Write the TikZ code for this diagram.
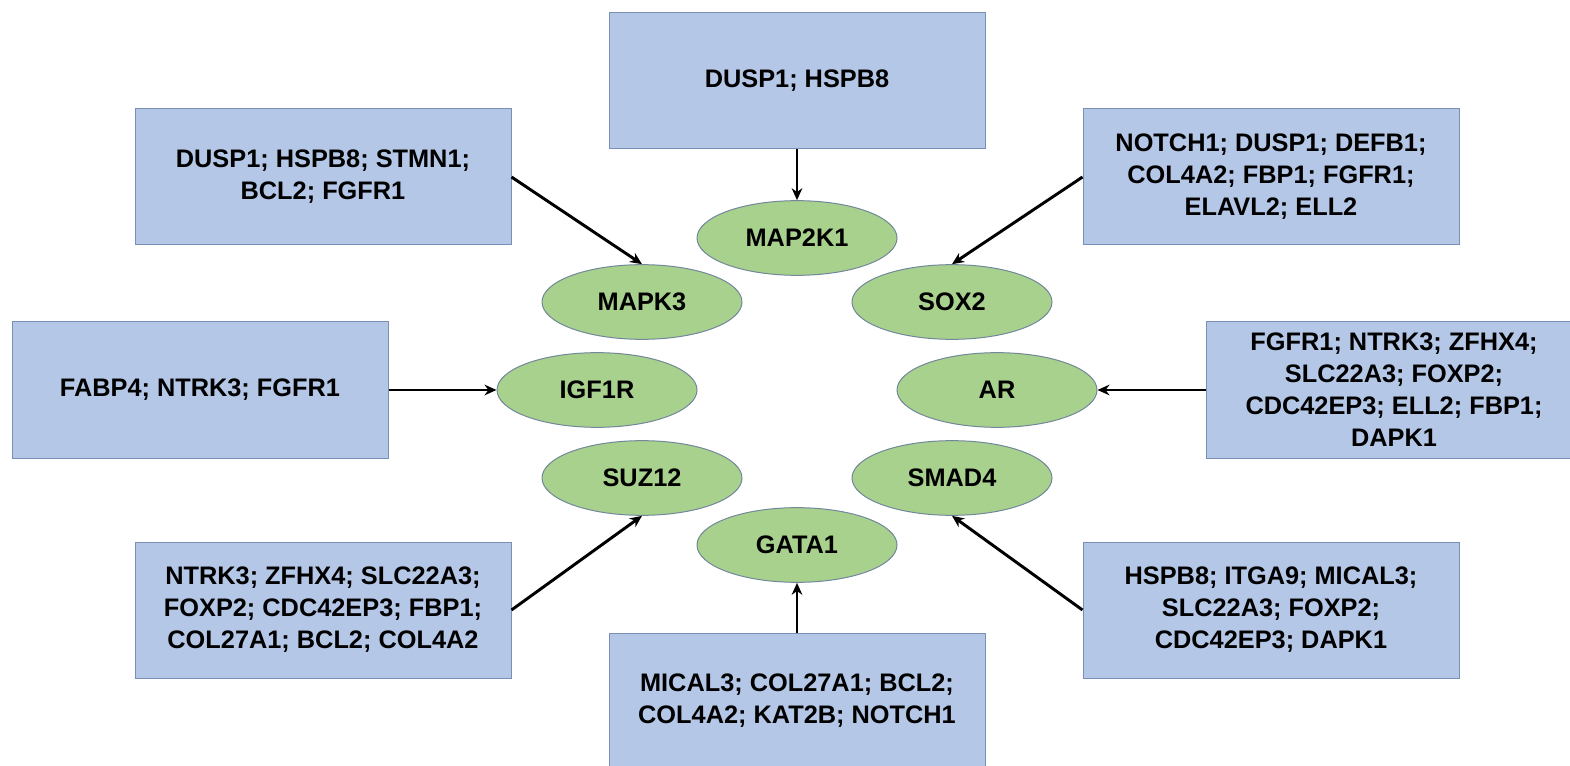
\documentclass[tikz,border=0pt]{standalone}
\usepackage{fontspec}
\setmainfont{Liberation Sans}
\usetikzlibrary{arrows.meta,shapes.geometric}

\definecolor{boxfill}{HTML}{B4C7E7}
\definecolor{boxline}{HTML}{7A8FB5}
\definecolor{genefill}{HTML}{A9D18E}
\definecolor{geneline}{HTML}{71879A}

\tikzset{every picture/.style={line width=0.75pt}}
\tikzset{
  genebox/.style={draw=boxline, fill=boxfill, minimum width=282pt, minimum height=102pt, align=center, inner sep=0pt,
    font=\fontsize{19}{24}\selectfont\bfseries},
  hub/.style={ellipse, draw=geneline, fill=genefill, minimum width=150pt, minimum height=56pt, inner sep=0pt,
    font=\fontsize{19}{24}\selectfont\bfseries},
  link/.style={line width=2.2pt, -{Stealth[length=9pt,width=8pt]}}
}

\begin{document}
\begin{tikzpicture}[x=0.75pt,y=0.75pt,yscale=-1,xscale=1]
\useasboundingbox (0,0) rectangle (1570,766);

\node [hub] (map2k1) at (797,238) {MAP2K1};
\node [hub] (mapk3) at (642,302) {MAPK3};
\node [hub] (sox2) at (952,302) {SOX2};
\node [hub] (igf1r) at (597,390) {IGF1R};
\node [hub] (ar) at (997,390) {AR};
\node [hub] (suz12) at (642,478) {SUZ12};
\node [hub] (smad4) at (952,478) {SMAD4};
\node [hub] (gata1) at (797,545) {GATA1};

\node [genebox] (top) at (797,81) {DUSP1; HSPB8};
\node [genebox] (topleft) at (323,177) {DUSP1; HSPB8; STMN1;\\BCL2; FGFR1};
\node [genebox] (topright) at (1271,177) {NOTCH1; DUSP1; DEFB1;\\COL4A2; FBP1; FGFR1;\\ELAVL2; ELL2};
\node [genebox] (left) at (200,390) {FABP4; NTRK3; FGFR1};
\node [genebox] (right) at (1394,390) {FGFR1; NTRK3; ZFHX4;\\SLC22A3; FOXP2;\\CDC42EP3; ELL2; FBP1;\\DAPK1};
\node [genebox] (botleft) at (323,610) {NTRK3; ZFHX4; SLC22A3;\\FOXP2; CDC42EP3; FBP1;\\COL27A1; BCL2; COL4A2};
\node [genebox] (botright) at (1271,610) {HSPB8; ITGA9; MICAL3;\\SLC22A3; FOXP2;\\CDC42EP3; DAPK1};
\node [genebox] (bottom) at (797,701) {MICAL3; COL27A1; BCL2;\\COL4A2; KAT2B; NOTCH1};

\draw [link] (top) -- (map2k1);
\draw [link] (topleft.east) -- (mapk3.north);
\draw [link] (topright.west) -- (sox2.north);
\draw [link] (left) -- (igf1r);
\draw [link] (right) -- (ar);
\draw [link] (botleft.east) -- (suz12.south);
\draw [link] (botright.west) -- (smad4.south);
\draw [link] (bottom) -- (gata1);

\end{tikzpicture}
\end{document}
